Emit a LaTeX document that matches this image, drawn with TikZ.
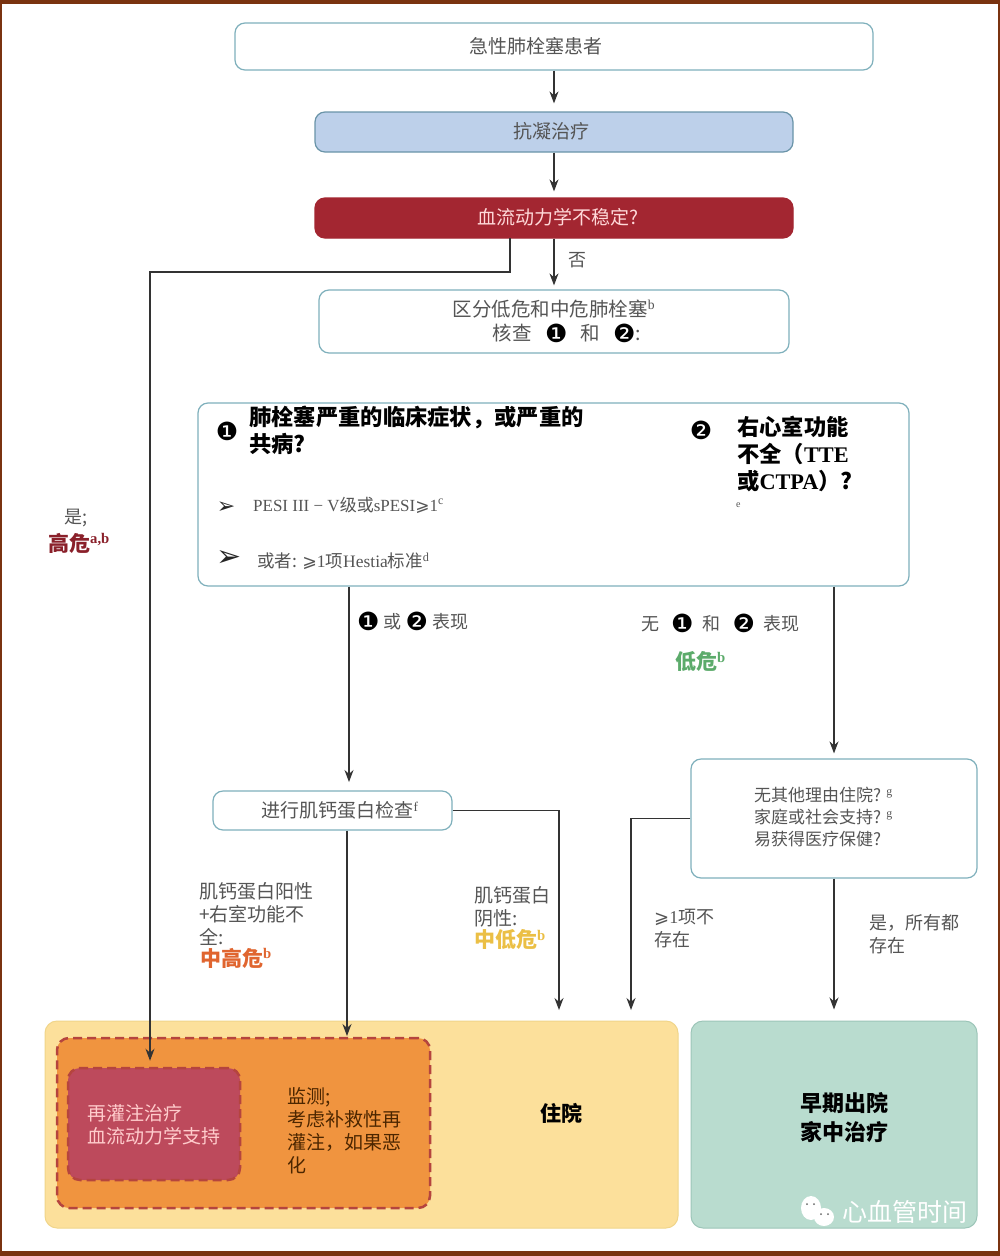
\documentclass[tikz,border=0pt]{standalone}
\usepackage{fontspec}
\setmainfont{Noto Sans CJK SC}
\newfontfamily\latinfont{Liberation Serif}
\newfontfamily\symfont{DejaVu Sans}
\usetikzlibrary{arrows.meta,positioning}
\newcommand{\la}[1]{{\latinfont #1}}
\newcommand{\sps}[1]{\textsuperscript{\latinfont #1}}
\newcommand{\one}{\raisebox{-2pt}{\symfont\color{black}\fontsize{25}{25}\selectfont ❶}}
\newcommand{\two}{\raisebox{-2pt}{\symfont\color{black}\fontsize{25}{25}\selectfont ❷}}
\newcommand{\geqs}{{\symfont ⩾}}
\definecolor{framebrown}{HTML}{7A3310}
\definecolor{boxline}{HTML}{7FB0BC}
\definecolor{drugfill}{HTML}{BDD0EA}
\definecolor{drugline}{HTML}{6A94A8}
\definecolor{unstablered}{HTML}{A32631}
\definecolor{hospfill}{HTML}{FCE09B}
\definecolor{hospline}{HTML}{F0D58A}
\definecolor{orangefill}{HTML}{F0943F}
\definecolor{dashred}{HTML}{B5443E}
\definecolor{repfill}{HTML}{BD4A5C}
\definecolor{earlyfill}{HTML}{B9DCCF}
\definecolor{earlyline}{HTML}{9CC5B8}
\definecolor{greytxt}{HTML}{555555}
\definecolor{lowgreen}{HTML}{5CAB6B}
\definecolor{midorange}{HTML}{E0652F}
\definecolor{midyellow}{HTML}{EBBF45}
\tikzset{
  box/.style={draw=boxline,line width=1.2pt,fill=white,rounded corners=10pt,inner sep=0pt,
    text=greytxt,align=center,font=\fontsize{19}{24}\selectfont},
  area/.style={line width=1pt,rounded corners=12pt,inner sep=0pt,align=center},
  dashbox/.style={draw=dashred,line width=2.5pt,dash pattern=on 9pt off 5pt,rounded corners=12pt,inner sep=0pt},
  arr/.style={draw=black!80,line width=1.2pt,-{Stealth[length=12pt,width=9pt]}},
  txt/.style={anchor=west,inner sep=0pt,align=left,text=greytxt,font=\fontsize{18}{23}\selectfont},
  bigtxt/.style={txt,font=\fontsize{19}{23}\selectfont},
  head/.style={txt,text=black,font=\bfseries\fontsize{22.3}{27}\selectfont},
  risk/.style={txt,font=\bfseries\fontsize{21}{24}\selectfont},
}
\begin{document}
\begin{tikzpicture}[x=1pt,y=-1pt]
  \useasboundingbox (0,0) rectangle (1000,1256);
  % frame of the page
  \fill[framebrown] (0,0) rectangle (1000,1256);
  \fill[white] (2,4) rectangle (998,1251);
  % boxes of the top column
  \node[box,minimum width=638pt,minimum height=47pt] (start) at (554,46.5) {急性肺栓塞患者\hspace*{36pt}};
  \node[box,draw=drugline,fill=drugfill,minimum width=478pt,minimum height=40pt] (drug) at (554,132) {\raisebox{3pt}{抗凝治疗}\hspace*{6pt}};
  \node[box,draw=unstablered,fill=unstablered,text=white!85!red,minimum width=478pt,minimum height=40pt] (unstable) at (554,218) {\raisebox{4pt}{\hspace*{8pt}血流动力学不稳定?}};
  \node[box,font=\fontsize{19.5}{24}\selectfont,minimum width=470pt,minimum height=63pt] (split) at (554,321.5) {区分低危和中危肺栓塞\sps{b}\\\hspace*{26pt}核查\ \ \ \one\ \ \ 和\ \ \ \two:};
  % the two questions
  \node[box,minimum width=711pt,minimum height=183pt] (big) at (553.5,494.5) {};
  \node[anchor=center,inner sep=0pt] (qone) at (227,431) {\one};
  \node[head] (qonetxt) at (249,430) {肺栓塞严重的临床症状，或严重的\\共病?};
  \node[anchor=center,inner sep=0pt] (qtwo) at (701,430) {\two};
  \node[head] (qtwotxt) at (737,454) {右心室功能\\不全（\la{TTE}\\或\la{CTPA}）?};
  \node[txt,font=\fontsize{10}{12}\selectfont] (qtwonote) at (736,505) {\la{e}};
  \node[inner sep=0pt,text=black!85,font=\fontsize{22}{24}\selectfont] (tipa) at (226,508) {\symfont ➢};
  \node[txt,font=\fontsize{17}{20}\selectfont] (pesi) at (253,505) {\la{PESI III − V}级或\la{sPESI}\geqs\la{1}\sps{c}};
  \node[inner sep=0pt,text=black!85,font=\fontsize{30}{30}\selectfont] (tipb) at (229,558) {\symfont ➢};
  \node[txt,font=\fontsize{17.5}{20}\selectfont] (hestia) at (257,561) {或者: \geqs\la{1}项\la{Hestia}标准\sps{d}};
  % middle row
  \node[box,minimum width=239pt,minimum height=39pt] (trop) at (332.5,810.5) {\raisebox{2pt}{\hspace*{15pt}进行肌钙蛋白检查\sps{f}}};
  \node[box,minimum width=286pt,minimum height=119pt] (home) at (834,818.5) {};
  \node[txt,font=\fontsize{17}{22}\selectfont] (hometxt) at (754,817) {无其他理由住院? \sps{g}\\家庭或社会支持? \sps{g}\\易获得医疗保健?};
  % bottom areas
  \node[area,draw=hospline,fill=hospfill,minimum width=633pt,minimum height=207pt] (hosp) at (361.5,1124.5) {};
  \node[area,draw=earlyline,fill=earlyfill,minimum width=286pt,minimum height=207pt] (early) at (834,1124.5) {};
  \node[dashbox,fill=orangefill,minimum width=373pt,minimum height=170pt] (monit) at (243.5,1123) {};
  \node[dashbox,fill=repfill,minimum width=172pt,minimum height=112pt] (rep) at (154,1124) {};
  \node[bigtxt,text=white!80!red] (reptxt) at (87,1125) {再灌注治疗\\血流动力学支持};
  \node[bigtxt,text=black!70!orange] (monittxt) at (287,1131) {监测;\\考虑补救性再\\灌注，如果恶\\化};
  \node[inner sep=0pt,font=\bfseries\fontsize{21}{24}\selectfont] (hosptxt) at (561,1113) {住院};
  \node[inner sep=0pt,align=center,font=\bfseries\fontsize{22}{29}\selectfont] (earlytxt) at (844,1118) {早期出院\\家中治疗};
  % labels on the connectors
  \node[txt] (no) at (568,260) {否};
  \node[txt] (yes) at (64,518) {是;};
  \node[risk,text=unstablered!85!black] (high) at (48,543) {高危\sps{a,b}};
  \node[txt] (either) at (357,621) {\one\ 或\ \two\ 表现};
  \node[txt] (neither) at (641,623) {无\hspace{12pt}\one\hspace{9pt}和\hspace{12pt}\two\hspace{8pt}表现};
  \node[risk,text=lowgreen] (low) at (675,662) {低危\sps{b}};
  \node[bigtxt] (pos) at (199,914) {肌钙蛋白阳性\\+右室功能不\\全:};
  \node[risk,text=midorange] (midhigh) at (200,958) {中高危\sps{b}};
  \node[bigtxt] (neg) at (474,906.5) {肌钙蛋白\\阴性:};
  \node[risk,text=midyellow] (midlow) at (474,940) {中低危\sps{b}};
  \node[txt] (absent) at (654,929) {\geqs\la{1}项不\\存在};
  \node[txt] (allyes) at (869,934) {是，所有都\\存在};
  % connectors
  \coordinate (yesout) at (510,238);
  \coordinate (yesbend) at (150,272);
  \coordinate (tropin) at (349,791);
  \coordinate (monin) at (347,1038);
  \coordinate (hospa) at (559,1021);
  \coordinate (hospb) at (631,1021);
  \draw[arr,shorten >=8pt] (start) -- (drug);
  \draw[arr,shorten >=6pt] (drug) -- (unstable);
  \draw[arr,shorten >=4pt] (unstable) -- (split);
  \draw[arr,shorten >=6pt] (yesout) |- (yesbend) -- (yesbend |- rep.north);
  \draw[arr,shorten >=9pt] (big.south -| tropin) -- (tropin);
  \draw[arr,shorten >=5pt] (big.south -| home.north) -- (home.north);
  \draw[arr,shorten >=2pt] (trop.south -| monin) -- (monin);
  \draw[arr,shorten >=11pt] (trop.east) -| (hospa);
  \draw[arr,shorten >=11pt] (home.west) -| (hospb);
  \draw[arr,shorten >=11pt] (home.south) -- (early.north);
  % watermark
  \fill[white] (811,1208) ellipse (10pt and 12pt);
  \fill[white] (824,1217) ellipse (10pt and 9pt);
  \fill[black!60] (807,1204) circle (1pt) (814,1204) circle (1pt) (821,1214) circle (1pt) (828,1214) circle (1pt);
  \node[inner sep=0pt,text=white,font=\fontsize{25}{26}\selectfont] (mark) at (905,1212) {心血管时间};
\end{tikzpicture}
\end{document}
